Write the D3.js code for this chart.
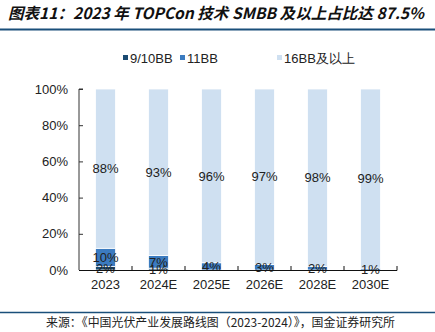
<!DOCTYPE html>
<html><head><meta charset="utf-8">
<script src="https://cdn.jsdelivr.net/npm/d3@7"></script>
<style>body{margin:0;background:#fff}svg{display:block}</style>
</head><body>
<script>
const categories = ["2023","2024E","2025E","2026E","2028E","2030E"];
const seriesNames = ["9/10BB","11BB","16BB及以上"];
const s910 = [2,1,0,0,0,0];
const s11 = [10,7,4,3,2,1];
const s16 = [88,93,96,97,98,99];
const yTicks = [0,20,40,60,80,100];
const colors = ["#1a4a72","#3b7bc0","#cfe0f1"];
const title = "图表11：2023 年 TOPCon 技术 SMBB 及以上占比达 87.5%";
const source = "来源：《中国光伏产业发展路线图（2023-2024）》，国金证券研究所";

const W=435,H=332;
const svg=d3.select("body").append("svg").attr("width",W).attr("height",H);
const font="'Liberation Sans', Arial, sans-serif";
const cjk="'Noto Sans CJK SC', sans-serif";

svg.append("text").attr("x",8).attr("y",19).attr("font-family",cjk).attr("font-size",15.5)
  .attr("font-weight","bold").attr("font-style","italic").attr("fill","#111")
  .attr("textLength",416).attr("lengthAdjust","spacingAndGlyphs").text(title);
svg.append("line").attr("x1",0).attr("x2",W).attr("y1",29.5).attr("y2",29.5).attr("stroke","#1a4f7a").attr("stroke-width",2);
svg.append("line").attr("x1",0).attr("x2",W).attr("y1",312.5).attr("y2",312.5).attr("stroke","#1a4f7a").attr("stroke-width",1.5);
svg.append("text").attr("x",46).attr("y",327).attr("font-family",cjk).attr("font-size",12).attr("fill","#222")
  .attr("textLength",349).attr("lengthAdjust","spacingAndGlyphs").text(source);

const x=d3.scaleBand().domain(categories).range([79,397]).paddingInner(0.62).paddingOuter(0.31);
const y=d3.scaleLinear().domain([0,100]).range([270,89]).clamp(true);

const data=categories.map((c,i)=>({cat:c,"9/10BB":s910[i],"11BB":s11[i],"16BB及以上":s16[i]}));
const stack=d3.stack().keys(seriesNames)(data);

const g=svg.append("g");
stack.forEach((layer,li)=>{
  g.selectAll(null).data(layer).enter().append("rect")
   .attr("x",d=>x(d.data.cat)).attr("width",x.bandwidth())
   .attr("y",d=>y(d[1])).attr("height",d=>Math.max(0,y(d[0])-y(d[1])))
   .attr("fill",colors[li]).attr("stroke","#fff").attr("stroke-width",d=>d[1]>d[0]?0.8:0);
});
stack.forEach((layer,li)=>{
  g.selectAll(null).data(layer.filter(d=>d[1]>d[0])).enter().append("text")
   .attr("x",d=>x(d.data.cat)+x.bandwidth()/2)
   .attr("y",d=>(y(d[0])+y(d[1]))/2).attr("dy","0.36em")
   .attr("text-anchor","middle").attr("font-family",font).attr("font-size",13).attr("fill","#222")
   .text(d=>(d[1]-d[0])+"%");
});

// y axis
const ya=svg.append("g").attr("transform","translate(79,0)")
  .call(d3.axisRight(y).tickValues(yTicks).tickSize(4).tickFormat(""));
ya.select(".domain").attr("stroke","#333").attr("d","M4,89H0V270");
ya.selectAll(".tick line").attr("stroke","#333");
svg.append("g").selectAll("text").data(yTicks).enter().append("text")
  .attr("x",68).attr("y",d=>y(d)).attr("dy","0.36em").attr("text-anchor","end")
  .attr("font-family",font).attr("font-size",13).attr("fill","#222").text(d=>d+"%");

// x axis
const xa=svg.append("g").attr("transform","translate(0,270)");
xa.append("line").attr("x1",79).attr("x2",397).attr("y1",0.5).attr("y2",0.5).attr("stroke","#111").attr("stroke-width",1.2);
const bounds=categories.map(c=>x(c)-x.step()*x.paddingOuter()+x.step());
xa.selectAll("line.t").data(bounds).enter().append("line").attr("class","t")
  .attr("x1",d=>d).attr("x2",d=>d).attr("y1",-4).attr("y2",0.5).attr("stroke","#111");
xa.selectAll("text").data(categories).enter().append("text")
  .attr("x",c=>x(c)+x.bandwidth()/2).attr("y",19).attr("text-anchor","middle")
  .attr("font-family",font).attr("font-size",13).attr("fill","#222").text(c=>c);

// legend
const legX=[123,180,277];
const lg=svg.append("g");
seriesNames.forEach((n,i)=>{
  lg.append("rect").attr("x",legX[i]).attr("y",55).attr("width",5).attr("height",5).attr("fill",colors[i]);
  lg.append("text").attr("x",legX[i]+7).attr("y",62.5).attr("font-family",font).attr("font-size",13)
    .attr("fill","#222").text(n);
});
</script>
</body></html>
